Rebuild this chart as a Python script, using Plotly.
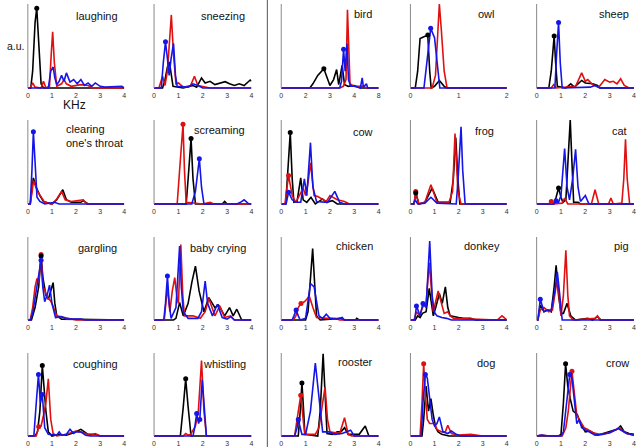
import plotly.graph_objects as go

# ---------------- data (KHz, arbitrary units 0..1) ----------------
PANEL_ORDER = ["laughing", "sneezing", "bird", "owl", "sheep",
               "clearing", "screaming", "cow", "frog", "cat",
               "gargling", "baby", "chicken", "donkey", "pig",
               "coughing", "whistling", "rooster", "dog", "crow"]

TITLES = {"laughing": "laughing", "sneezing": "sneezing", "bird": "bird", "owl": "owl",
          "sheep": "sheep", "clearing": "clearing<br>one's throat", "screaming": "screaming",
          "cow": "cow", "frog": "frog", "cat": "cat", "gargling": "gargling",
          "baby": "baby crying", "chicken": "chicken", "donkey": "donkey", "pig": "pig",
          "coughing": "coughing", "whistling": "whistling", "rooster": "rooster",
          "dog": "dog", "crow": "crow"}

XMAX = {"bird": 8, "owl": 2}
TICKS_DEFAULT = [0, 1, 2, 3, 4]
TICKTEXT_DEFAULT = ["0", "1", "2", "3", "4"]
TICKS_BIRD = [0, 2, 4, 6, 8]
TICKTEXT_BIRD = ["0", "2", "3", "4", "8"]
TICKS_OWL = [0, 1, 2]
TICKTEXT_OWL = ["0", "1", "2"]

laughing_k = [(0,0),(0.12,0),(0.2,0.2),(0.3,0.78),(0.37,0.95),(0.45,0.55),(0.55,0.05),(0.65,0),(4,0)]
laughing_r = [(0,0),(0.1,0),(0.2,0.06),(0.3,0.01),(0.55,0),(0.65,0.08),(0.75,0),(0.9,0.02),(0.97,0.4),(1.03,0.67),(1.1,0.3),(1.2,0.02),(1.4,0.05),(1.5,0.1),(1.6,0.05),(1.8,0.02),(2.2,0.04),(2.5,0.03),(2.7,0),(4,0)]
laughing_b = [(0,0),(0.85,0),(0.95,0.2),(1.05,0.25),(1.12,0.12),(1.2,0.04),(1.3,0.08),(1.4,0.15),(1.5,0.08),(1.6,0.18),(1.75,0.07),(1.9,0.1),(2.05,0.05),(2.2,0.1),(2.35,0.03),(2.5,0.06),(2.65,0.02),(2.8,0.06),(3.0,0.02),(3.2,0.01),(3.9,0.02),(4,0)]
laughing_mk = [("k",0.37,0.95)]

sneezing_k = [(0,0),(0.35,0),(0.45,0.1),(0.55,0.25),(0.63,0.31),(0.7,0.15),(0.78,0.02),(1.2,0),(1.6,0.03),(1.75,0.01),(1.95,0.12),(2.1,0.06),(2.3,0.08),(2.5,0.04),(2.7,0.06),(2.92,0.075),(3.1,0.05),(3.3,0.03),(3.5,0.05),(3.7,0.03),(3.95,0.095),(4,0.08)]
sneezing_r = [(0,0),(0.2,0),(0.35,0.14),(0.45,0.03),(0.55,0.2),(0.63,0.6),(0.71,0.87),(0.8,0.4),(0.9,0.05),(1.0,0.06),(1.2,0.01),(1.5,0.03),(1.66,0.14),(1.8,0.03),(2.0,0.02),(2.3,0),(4,0)]
sneezing_b = [(0,0),(0.3,0),(0.38,0.3),(0.47,0.55),(0.55,0.35),(0.62,0.15),(0.7,0.35),(0.8,0.53),(0.88,0.15),(0.95,0.02),(1.4,0.01),(1.6,0.05),(1.8,0.03),(2.0,0),(4,0)]
sneezing_mk = [("b",0.47,0.55)]

bird_k = [(0,0),(2.35,0),(2.6,0.05),(3.0,0.15),(3.5,0.23),(3.8,0.12),(4.0,0.03),(4.3,0.1),(4.55,0.22),(4.72,0.04),(4.88,0.18),(5.0,0.27),(5.2,0.04),(5.5,0.02),(6.0,0.03),(6.5,0),(8,0)]
bird_r = [(0,0),(4.8,0),(5.1,0.02),(5.32,0.1),(5.44,0.93),(5.55,0.45),(5.65,0.05),(6.0,0.02),(6.7,0.02),(7.0,0),(8,0)]
bird_b = [(0,0),(4.8,0),(4.95,0.08),(5.12,0.46),(5.25,0.2),(5.4,0.53),(5.52,0.1),(5.7,0.02),(6.0,0.02),(6.5,0),(6.65,0.12),(6.75,0.01),(7.0,0.05),(7.1,0),(8,0)]
bird_mk = [("k",3.5,0.23),("b",5.12,0.46)]

owl_k = [(0,0),(0.1,0),(0.15,0.2),(0.2,0.59),(0.28,0.61),(0.36,0.63),(0.4,0.2),(0.43,0),(0.5,0.02),(0.6,0.09),(0.7,0.02),(0.75,0),(2,0)]
owl_r = [(0,0),(0.45,0),(0.52,0.15),(0.57,0.7),(0.6,1.0),(0.64,0.7),(0.7,0.2),(0.76,0),(2,0)]
owl_b = [(0,0),(0.28,0),(0.34,0.3),(0.42,0.71),(0.5,0.6),(0.56,0.25),(0.61,0),(2,0)]
owl_mk = [("k",0.36,0.63),("b",0.42,0.71)]

sheep_k = [(0,0),(0.5,0),(0.6,0.2),(0.67,0.5),(0.72,0.62),(0.78,0.3),(0.85,0.02),(1.2,0),(1.4,0.05),(1.55,0.01),(1.85,0.09),(2.0,0.06),(2.3,0.05),(2.5,0.03),(2.6,0),(4,0)]
sheep_r = [(0,0),(0.6,0),(0.7,0.04),(0.8,0),(1.6,0.02),(1.85,0.18),(2.0,0.08),(2.1,0.1),(2.3,0.04),(2.55,0.01),(2.8,0.1),(3.0,0.07),(3.15,0.08),(3.3,0.05),(3.45,0.11),(3.6,0.03),(3.8,0),(4,0)]
sheep_b = [(0,0),(0.75,0),(0.82,0.4),(0.9,0.78),(0.97,0.3),(1.05,0),(2.2,0.01),(2.4,0.03),(2.6,0),(4,0)]
sheep_mk = [("k",0.72,0.62),("b",0.9,0.78)]

clearing_k = [(0,0),(0.1,0),(0.18,0.2),(0.23,0.31),(0.35,0.2),(0.5,0.1),(0.65,0.03),(1.0,0),(1.2,0.05),(1.45,0.17),(1.6,0.05),(1.8,0.02),(2.2,0.02),(2.3,0.04),(2.5,0),(4,0)]
clearing_r = [(0,0),(0.1,0),(0.18,0.15),(0.23,0.28),(0.4,0.15),(0.55,0.08),(0.7,0.02),(1.0,0),(1.2,0.06),(1.4,0.15),(1.55,0.05),(1.8,0.03),(2.3,0.05),(2.45,0),(4,0)]
clearing_b = [(0,0),(0.1,0),(0.17,0.4),(0.23,0.86),(0.3,0.5),(0.38,0.08),(0.5,0.03),(0.7,0),(1.1,0.02),(1.3,0),(4,0)]
clearing_mk = [("b",0.23,0.86)]

screaming_k = [(0,0),(1.32,0),(1.4,0.3),(1.52,0.78),(1.6,0.3),(1.7,0),(2.8,0),(2.9,0.03),(3.0,0),(4,0)]
screaming_r = [(0,0),(0.95,0),(1.05,0.4),(1.19,0.95),(1.25,0.4),(1.32,0.02),(2.0,0),(2.3,0.02),(2.45,0),(4,0)]
screaming_b = [(0,0),(1.55,0),(1.7,0.15),(1.86,0.54),(1.95,0.2),(2.05,0),(3.4,0),(3.55,0.02),(3.7,0.05),(3.8,0.02),(3.9,0),(4,0)]
screaming_mk = [("r",1.19,0.95),("k",1.52,0.78),("b",1.86,0.54)]

cow_k = [(0,0),(0.18,0),(0.25,0.3),(0.37,0.85),(0.45,0.3),(0.52,0.02),(0.65,0.03),(0.8,0.31),(0.9,0.05),(1.05,0.02),(1.22,0.08),(1.4,0),(1.7,0.06),(1.85,0.02),(2.1,0.04),(2.3,0),(4,0)]
cow_r = [(0,0),(0.15,0),(0.3,0.34),(0.45,0.1),(0.6,0.02),(0.9,0.19),(1.0,0.1),(1.1,0.25),(1.2,0.49),(1.35,0.1),(1.5,0.09),(1.7,0.06),(1.85,0.03),(2.0,0.1),(2.3,0.05),(2.6,0.03),(2.8,0),(4,0)]
cow_b = [(0,0),(0.2,0),(0.3,0.14),(0.45,0.05),(0.6,0.02),(0.8,0.02),(0.95,0.3),(1.05,0.1),(1.2,0.73),(1.3,0.2),(1.45,0.03),(1.9,0.02),(2.2,0.15),(2.4,0.02),(2.6,0),(4,0)]
cow_mk = [("k",0.37,0.85),("r",0.3,0.34),("b",0.3,0.14)]

frog_k = [(0,0),(0.15,0),(0.22,0.13),(0.35,0),(0.6,0.02),(0.9,0.19),(1.15,0.02),(1.65,0.02),(1.78,0.3),(1.88,0.79),(1.97,0.3),(2.05,0),(4,0)]
frog_r = [(0,0),(0.15,0),(0.22,0.15),(0.35,0),(0.6,0.02),(0.85,0.23),(1.1,0.02),(1.6,0.02),(1.75,0.15),(1.85,0.84),(1.97,0.15),(2.1,0),(4,0)]
frog_b = [(0,0),(0.12,0),(0.2,0.05),(0.3,0),(0.6,0.01),(0.85,0.08),(1.1,0.01),(1.9,0),(1.98,0.3),(2.1,0.92),(2.17,0.4),(2.27,0),(4,0)]
frog_mk = [("r",0.22,0.15),("k",0.22,0.13)]

cat_k = [(0,0),(0.7,0),(0.8,0.08),(0.9,0.19),(1.0,0.08),(1.08,0.02),(1.2,0.05),(1.3,0.5),(1.38,1.0),(1.45,0.5),(1.52,0.02),(1.7,0.02),(1.8,0),(4,0)]
cat_r = [(0,0),(0.5,0),(0.6,0.03),(0.7,0),(1.05,0.01),(1.15,0.07),(1.28,0),(2.25,0),(2.4,0.17),(2.55,0),(2.95,0),(3.05,0.07),(3.15,0),(3.5,0.01),(3.58,0.3),(3.65,0.77),(3.72,0.3),(3.82,0),(4,0)]
cat_b = [(0,0),(0.7,0),(0.8,0.04),(0.9,0.02),(1.0,0.1),(1.15,0.66),(1.25,0.2),(1.35,0.05),(1.48,0.3),(1.6,0.65),(1.7,0.2),(1.8,0.03),(2.0,0.1),(2.15,0),(4,0)]
cat_mk = [("k",0.9,0.19),("b",0.8,0.04),("r",0.6,0.03)]

gargling_k = [(0,0),(0.15,0),(0.3,0.15),(0.45,0.4),(0.55,0.77),(0.63,0.5),(0.75,0.3),(0.85,0.25),(0.95,0.35),(1.05,0.45),(1.12,0.2),(1.2,0.05),(1.4,0.01),(4,0)]
gargling_r = [(0,0),(0.1,0),(0.2,0.15),(0.3,0.4),(0.38,0.5),(0.45,0.45),(0.55,0.79),(0.63,0.4),(0.7,0.36),(0.8,0.27),(0.9,0.25),(1.0,0.2),(1.2,0.05),(1.5,0.03),(2.0,0),(4,0)]
gargling_b = [(0,0),(0.1,0),(0.2,0.08),(0.4,0.45),(0.55,0.72),(0.62,0.4),(0.7,0.22),(0.8,0.3),(0.9,0.42),(1.0,0.2),(1.15,0.03),(1.4,0.04),(1.6,0.01),(2.2,0.01),(2.4,0),(4,0)]
gargling_mk = [("r",0.55,0.79),("k",0.55,0.77),("b",0.55,0.72)]

baby_k = [(0,0),(0.8,0),(0.9,0.02),(1.05,0.21),(1.2,0.05),(1.4,0.2),(1.55,0.45),(1.7,0.65),(1.85,0.35),(2.05,0.1),(2.25,0.27),(2.4,0.2),(2.5,0.15),(2.65,0.18),(2.9,0.05),(3.1,0.15),(3.25,0.05),(3.4,0.13),(3.6,0),(4,0)]
baby_r = [(0,0),(0.42,0),(0.55,0.4),(0.65,0.1),(0.75,0.35),(0.85,0.51),(0.95,0.25),(1.0,0.2),(1.1,0.91),(1.18,0.3),(1.25,0.05),(1.6,0.05),(1.9,0.02),(2.1,0.1),(2.25,0.26),(2.4,0.12),(2.5,0.05),(2.7,0.17),(2.9,0.03),(3.15,0.05),(3.3,0),(4,0)]
baby_b = [(0,0),(0.4,0),(0.47,0.2),(0.55,0.53),(0.62,0.2),(0.7,0.02),(0.9,0.15),(0.97,0.5),(1.05,0.89),(1.12,0.4),(1.2,0.1),(1.4,0.02),(1.8,0.02),(1.95,0.1),(2.1,0.47),(2.2,0.2),(2.4,0.05),(2.6,0.19),(2.8,0.03),(3.0,0.01),(3.15,0.04),(3.3,0),(4,0)]
baby_mk = [("b",0.55,0.53)]

chicken_k = [(0,0),(1.0,0),(1.1,0.1),(1.2,0.5),(1.29,0.86),(1.36,0.5),(1.45,0.05),(1.6,0),(2.4,0.02),(2.6,0),(3.05,0),(3.1,0.02),(3.2,0),(4,0)]
chicken_r = [(0,0),(0.5,0),(0.6,0.05),(0.7,0.15),(0.81,0.2),(0.95,0.22),(1.05,0.25),(1.15,0.29),(1.3,0.15),(1.45,0.03),(1.9,0.02),(2.2,0.02),(2.4,0),(4,0)]
chicken_b = [(0,0),(0.45,0),(0.52,0.05),(0.61,0.12),(0.7,0.05),(0.78,0),(1.0,0.02),(1.12,0.3),(1.2,0.44),(1.35,0.4),(1.45,0.2),(1.55,0.05),(1.7,0.02),(1.85,0.07),(2.0,0.02),(2.3,0.01),(2.5,0.03),(2.6,0),(4,0)]
chicken_mk = [("b",0.61,0.12),("r",0.81,0.2)]

donkey_k = [(0,0),(0.2,0),(0.3,0.05),(0.4,0.03),(0.5,0.08),(0.65,0.1),(0.78,0.38),(0.88,0.15),(0.95,0.05),(1.05,0.15),(1.2,0.32),(1.32,0.2),(1.45,0.4),(1.55,0.15),(1.65,0.05),(2.0,0.03),(2.2,0.02),(2.5,0.02),(2.7,0),(4,0)]
donkey_r = [(0,0),(0.15,0),(0.25,0.1),(0.38,0.05),(0.5,0.15),(0.65,0.2),(0.78,0.69),(0.88,0.3),(0.95,0.1),(1.15,0.35),(1.3,0.2),(1.4,0.08),(1.55,0.1),(1.65,0.05),(1.8,0.02),(2.5,0.01),(3.6,0),(3.8,0.05),(3.95,0.01),(4,0)]
donkey_b = [(0,0),(0.18,0),(0.25,0.17),(0.4,0.05),(0.52,0.2),(0.65,0.15),(0.8,0.95),(0.9,0.3),(0.98,0.1),(1.1,0.05),(1.3,0.03),(1.5,0.02),(1.7,0),(4,0)]
donkey_mk = [("b",0.25,0.17),("b",0.52,0.2)]

pig_k = [(0,0),(0.05,0),(0.15,0.18),(0.3,0.1),(0.45,0.12),(0.6,0.1),(0.72,0.4),(0.8,0.66),(0.9,0.3),(1.0,0.08),(1.1,0.08),(1.25,0.2),(1.4,0.05),(1.6,0),(2.1,0.02),(2.3,0),(2.5,0.04),(2.65,0),(4,0)]
pig_r = [(0,0),(0.05,0),(0.15,0.12),(0.3,0.15),(0.5,0.1),(0.65,0.12),(0.85,0.5),(1.0,0.05),(1.1,0.3),(1.2,0.84),(1.28,0.3),(1.35,0.05),(1.5,0),(2.4,0.02),(2.5,0.05),(2.6,0),(4,0)]
pig_b = [(0,0),(0.05,0),(0.15,0.25),(0.3,0.1),(0.45,0.12),(0.6,0.12),(0.75,0.35),(0.85,0.58),(0.95,0.3),(1.05,0),(4,0)]
pig_mk = [("b",0.15,0.25)]

coughing_k = [(0,0),(0.3,0),(0.4,0.05),(0.5,0.3),(0.6,0.85),(0.68,0.5),(0.75,0.3),(0.85,0.05),(1.0,0),(1.3,0.02),(1.6,0.01),(1.9,0.04),(2.2,0.08),(2.5,0.02),(2.8,0.02),(3.0,0),(4,0)]
coughing_r = [(0,0),(0.35,0),(0.45,0.11),(0.55,0.12),(0.65,0.25),(0.75,0.4),(0.85,0.69),(0.95,0.2),(1.05,0.03),(1.2,0),(1.6,0.02),(2.0,0.06),(2.3,0.04),(2.6,0.01),(2.8,0.03),(3.0,0),(4,0)]
coughing_b = [(0,0),(0.25,0),(0.35,0.4),(0.44,0.74),(0.52,0.4),(0.6,0.5),(0.7,0.1),(0.85,0.02),(1.2,0.01),(1.3,0.05),(1.4,0.01),(1.6,0.02),(1.75,0.08),(1.9,0.03),(2.0,0.05),(2.2,0.05),(2.4,0.01),(2.6,0),(4,0)]
coughing_mk = [("r",0.45,0.11),("b",0.44,0.74),("b",0.6,0.5),("k",0.6,0.85)]

whistling_k = [(0,0),(1.08,0),(1.2,0.35),(1.3,0.69),(1.4,0.35),(1.52,0),(4,0)]
whistling_r = [(0,0),(1.2,0),(1.3,0.03),(1.4,0.01),(1.5,0.02),(1.6,0.08),(1.7,0.12),(1.82,0.3),(1.95,0.91),(2.05,0.3),(2.15,0),(4,0)]
whistling_b = [(0,0),(1.6,0),(1.67,0.1),(1.75,0.27),(1.83,0.15),(1.88,0.2),(1.98,0.68),(2.07,0.25),(2.15,0),(4,0)]
whistling_mk = [("k",1.3,0.69),("b",1.75,0.27),("b",1.88,0.2)]

rooster_k = [(0,0),(0.7,0),(0.78,0.3),(0.85,0.64),(0.92,0.3),(0.97,0.02),(1.5,0),(1.6,0.3),(1.72,0.99),(1.8,0.4),(1.88,0.03),(2.1,0.02),(2.3,0.05),(2.45,0.05),(2.6,0.1),(2.75,0.02),(3.2,0.02),(3.45,0.12),(3.6,0),(4,0)]
rooster_r = [(0,0),(0.55,0),(0.65,0.2),(0.8,0.49),(0.9,0.2),(0.97,0.02),(1.4,0.02),(1.55,0.1),(1.7,0.4),(1.8,0.59),(1.9,0.2),(2.0,0.05),(2.4,0.03),(2.6,0.22),(2.75,0.02),(2.9,0),(4,0)]
rooster_b = [(0,0),(0.55,0),(0.65,0.1),(0.7,0.2),(0.78,0.1),(0.85,0.02),(1.0,0.02),(1.2,0.3),(1.4,0.88),(1.5,0.6),(1.6,0.3),(1.7,0.05),(1.95,0.05),(2.2,0.02),(2.5,0.03),(2.85,0.07),(3.0,0),(4,0)]
rooster_mk = [("k",0.85,0.64),("r",0.8,0.49),("b",0.7,0.2)]

dog_k = [(0,0),(0.48,0),(0.55,0.2),(0.65,0.6),(0.75,0.3),(0.85,0.45),(0.95,0.25),(1.05,0.1),(1.15,0.05),(1.3,0.02),(1.6,0),(4,0)]
dog_r = [(0,0),(0.4,0),(0.48,0.4),(0.55,0.87),(0.62,0.5),(0.7,0.2),(0.8,0.15),(1.0,0.15),(1.1,0.08),(1.3,0.05),(1.45,0.05),(1.55,0.13),(1.7,0.03),(2.0,0.01),(2.5,0.02),(2.8,0.01),(3.0,0),(4,0)]
dog_b = [(0,0),(0.45,0),(0.52,0.4),(0.62,0.74),(0.7,0.7),(0.78,0.5),(0.9,0.2),(1.0,0.12),(1.1,0.15),(1.2,0.23),(1.35,0.05),(1.55,0.03),(1.7,0.06),(1.9,0.02),(2.1,0),(4,0)]
dog_mk = [("r",0.55,0.87),("b",0.62,0.74)]

crow_k = [(0,0),(0.9,0),(1.0,0.02),(1.1,0.4),(1.19,0.87),(1.28,0.6),(1.38,0.45),(1.5,0.3),(1.67,0.26),(1.8,0.15),(2.0,0.05),(2.2,0.06),(2.5,0.01),(3.0,0.05),(3.3,0.08),(3.45,0.12),(3.6,0.05),(3.8,0.03),(4,0.02)]
crow_r = [(0,0),(0.2,0.01),(0.5,0),(1.05,0),(1.2,0.1),(1.3,0.3),(1.45,0.78),(1.55,0.5),(1.65,0.25),(1.75,0.2),(1.95,0.1),(2.1,0.08),(2.3,0.04),(2.6,0.02),(3.0,0.04),(3.3,0.08),(3.4,0.1),(3.55,0.06),(3.7,0.03),(4,0.01)]
crow_b = [(0,0),(0.2,0.01),(0.5,0),(1.0,0),(1.1,0.05),(1.2,0.3),(1.36,0.74),(1.45,0.7),(1.55,0.4),(1.65,0.15),(1.75,0.2),(1.85,0.1),(2.1,0.06),(2.4,0.01),(2.7,0.02),(3.0,0.04),(3.35,0.09),(3.5,0.06),(3.7,0.03),(4,0.01)]
crow_mk = [("k",1.19,0.87),("r",1.45,0.78),("b",1.36,0.74)]

# ---------------- layout (pixels) ----------------
W, H = 640, 447
COLS = [(26, 123), (153, 251), (281, 379), (411, 508), (538, 636)]
ROWS = [(4, 88), (120, 204), (237, 320), (353, 436)]
TITLE_POS = {  # (x px, y px, anchor)
    "laughing": (119, 16, "right"), "sneezing": (247, 16, "right"), "bird": (374, 14, "right"),
    "owl": (498, 14, "right"), "sheep": (633, 14, "right"),
    "clearing": (62, 136, "left"), "screaming": (247, 130, "right"), "cow": (375, 132, "right"),
    "frog": (497, 131, "right"), "cat": (631, 131, "right"),
    "gargling": (118, 248, "right"), "baby": (248, 248, "right"), "chicken": (375, 246, "right"),
    "donkey": (503, 246, "right"), "pig": (633, 246, "right"),
    "coughing": (119, 364, "right"), "whistling": (248, 364, "right"), "rooster": (375, 362, "right"),
    "dog": (498, 363, "right"), "crow": (633, 363, "right"),
}
COLOR = {"k": "#000000", "r": "#e01010", "b": "#1515e8"}
YLO, YHI = -0.025, 1.02

def fx(px):
    return px / W

def fy(py):
    return 1 - py / H

fig = go.Figure()
shapes, annotations = [], []
g = globals()
for i, name in enumerate(PANEL_ORDER):
    r, c = divmod(i, 5)
    n = i + 1
    xs = "x" if n == 1 else f"x{n}"
    ys = "y" if n == 1 else f"y{n}"
    for key in ["k", "r", "b"]:
        pts = g[f"{name}_{key}"]
        fig.add_trace(go.Scatter(x=[p[0] for p in pts], y=[p[1] for p in pts], mode="lines",
                                 line=dict(color=COLOR[key], width=1.6),
                                 xaxis=xs, yaxis=ys, showlegend=False, hoverinfo="skip"))
    for col, mx, my in g[f"{name}_mk"]:
        fig.add_trace(go.Scatter(x=[mx], y=[my], mode="markers",
                                 marker=dict(color=COLOR[col], size=5),
                                 xaxis=xs, yaxis=ys, showlegend=False, hoverinfo="skip",
                                 cliponaxis=False))
    x0, x1 = COLS[c]
    top, base = ROWS[r]
    ppu = base - top
    xmax = XMAX.get(name, 4)
    if name == "bird":
        tv, tt = TICKS_BIRD, TICKTEXT_BIRD
    elif name == "owl":
        tv, tt = TICKS_OWL, TICKTEXT_OWL
    else:
        tv, tt = TICKS_DEFAULT, TICKTEXT_DEFAULT
    xkey = "xaxis" if n == 1 else f"xaxis{n}"
    ykey = "yaxis" if n == 1 else f"yaxis{n}"
    fig.update_layout(**{
        xkey: dict(domain=[fx(x0), fx(x1)], range=[0, xmax], tickvals=tv, ticktext=tt,
                   showgrid=False, zeroline=False, showline=False, ticks="",
                   tickfont=dict(size=7, color="#333333", family="Liberation Sans, Arial"),
                   anchor=ys, fixedrange=True),
        ykey: dict(domain=[fy(base - YLO * ppu), fy(top - (YHI - 1) * ppu)], range=[YLO, YHI],
                   showgrid=False, zeroline=False, showline=False, showticklabels=False,
                   ticks="", anchor=xs, fixedrange=True),
    })
    shapes.append(dict(type="line", xref="paper", yref="paper", x0=fx(x0), x1=fx(x0),
                       y0=fy(base), y1=fy(top), line=dict(color="#8a8a8a", width=1)))
    tx, ty, anc = TITLE_POS[name]
    annotations.append(dict(text=TITLES[name], xref="paper", yref="paper", x=fx(tx), y=fy(ty),
                            xanchor=anc, yanchor="middle", align="left", showarrow=False,
                            font=dict(size=11, color="#111111", family="Liberation Sans, Arial")))

shapes.append(dict(type="line", xref="paper", yref="paper", x0=fx(267), x1=fx(267), y0=0, y1=1,
                   line=dict(color="#555555", width=1)))
annotations.append(dict(text="a.u.", xref="paper", yref="paper", x=fx(3), y=fy(46), xanchor="left",
                        yanchor="middle", showarrow=False,
                        font=dict(size=10.5, color="#111111", family="Liberation Sans, Arial")))
annotations.append(dict(text="KHz", xref="paper", yref="paper", x=fx(73), y=fy(105), xanchor="center",
                        yanchor="middle", showarrow=False,
                        font=dict(size=12, color="#111111", family="Liberation Sans, Arial")))

fig.update_layout(width=W, height=H, margin=dict(l=0, r=0, t=0, b=0),
                  paper_bgcolor="white", plot_bgcolor="white",
                  shapes=shapes, annotations=annotations)
fig.write_html("out.html", config={"displayModeBar": False, "staticPlot": True},
               post_script="document.body.style.margin='0';document.body.style.overflow='hidden';")
